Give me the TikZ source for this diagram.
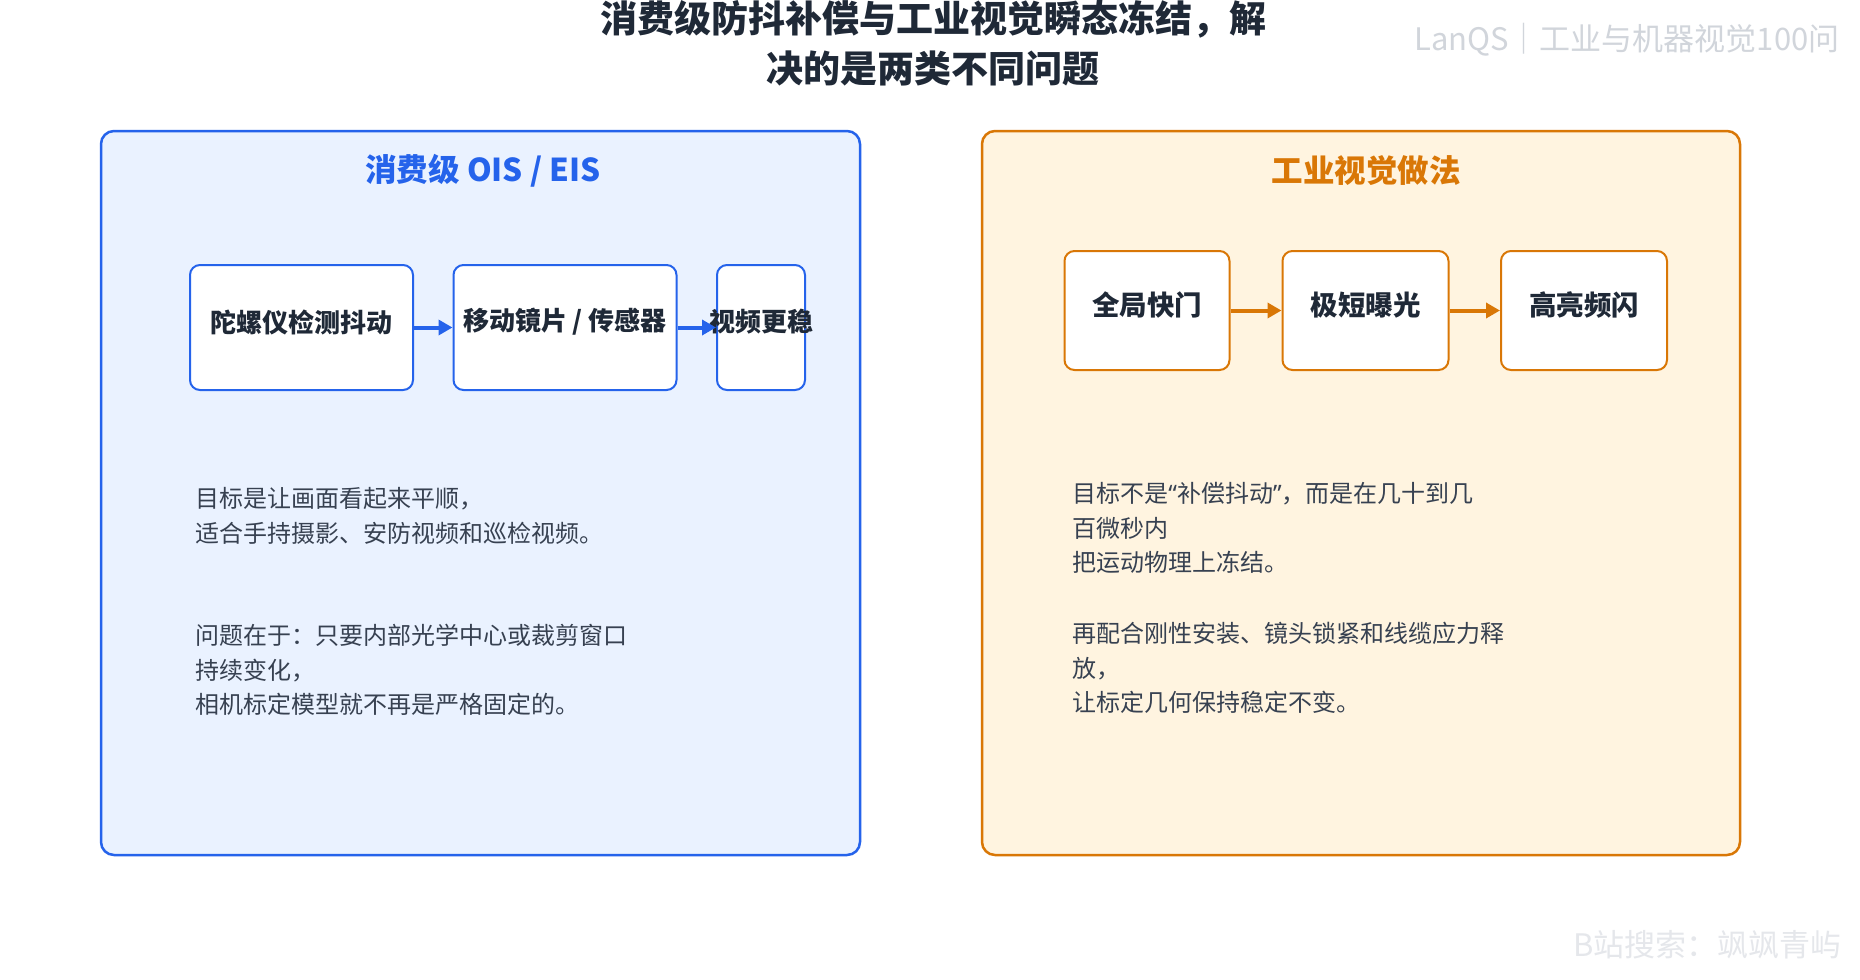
\documentclass[tikz,border=0pt]{standalone}
\usepackage{fontspec}
\setmainfont{Noto Sans CJK SC}
\newfontfamily\latinq{Noto Sans}
\usetikzlibrary{arrows.meta}
\definecolor{titlec}{HTML}{1F2937}
\definecolor{bodyc}{HTML}{374151}
\definecolor{blueb}{HTML}{2563EB}
\definecolor{bluef}{HTML}{EAF2FF}
\definecolor{orangeb}{HTML}{D97706}
\definecolor{orangef}{HTML}{FFF4E0}
\definecolor{wmA}{HTML}{D1D5DB}
\definecolor{wmB}{HTML}{E5E7EB}
\tikzset{
  panelL/.style={draw=blueb, fill=bluef, line width=1.25pt, rounded corners=6.5pt, minimum width=379.5pt, minimum height=362pt, inner sep=0pt},
  panelR/.style={draw=orangeb, fill=orangef, line width=1.25pt, rounded corners=6.5pt, minimum width=379pt, minimum height=362pt, inner sep=0pt},
  lbox/.style={draw=blueb, fill=white, line width=1pt, rounded corners=5pt, minimum height=62.5pt, inner sep=0pt},
  rbox/.style={draw=orangeb, fill=white, line width=1pt, rounded corners=5pt, minimum height=59.5pt, inner sep=0pt},
  ltxt/.style={text=titlec, font={\fontsize{13}{15}\selectfont\bfseries}, inner sep=0pt},
  rtxt/.style={text=titlec, font={\fontsize{13.75}{16}\selectfont\bfseries}, inner sep=0pt},
  larrow/.style={draw=blueb, line width=2pt, -{Triangle[length=7pt,width=7.5pt]}},
  rarrow/.style={draw=orangeb, line width=2pt, -{Triangle[length=7pt,width=7.5pt]}},
  bodytxt/.style={text=bodyc, font={\fontsize{12}{17.25}\selectfont}, align=left, inner sep=0pt, anchor=north west},
  ptitle/.style={font={\fontsize{15.75}{18}\selectfont\bfseries}, inner sep=0pt},
}
\begin{document}
\begin{tikzpicture}[x=0.5pt, y=-0.5pt]
\useasboundingbox[fill=white] (0,0) rectangle (1860,980);

% title
\node[text=titlec, font={\fontsize{18.5}{25}\selectfont\bfseries}, align=center, inner sep=0pt] (title) at (933,43) {消费级防抖补偿与工业视觉瞬态冻结，解\\决的是两类不同问题};

% watermarks
\node[text=wmA, font={\fontsize{15.5}{17}\selectfont}, anchor=east, inner sep=0pt] (wm1) at (1840,39.5) {LanQS｜工业与机器视觉100问};
\node[text=wmB, font={\fontsize{15.5}{17}\selectfont}, anchor=east, inner sep=0pt] (wm2) at (1842,945) {B站搜索：飒飒青屿};

% panels
\node[panelL] (lp) at (480.5,493) {};
\node[panelR] (rp) at (1361,493) {};
\node[ptitle, text=blueb] (lpt) at (483,170.5) {消费级 OIS / EIS};
\node[ptitle, text=orangeb] (rpt) at (1366,170.5) {工业视觉做法};

% left flow
\node[lbox, minimum width=111.5pt] (l1) at (301.5,327.5) {};
\node[lbox, minimum width=111.5pt] (l2) at (565,327.5) {};
\node[lbox, minimum width=44pt] (l3) at (761,327.5) {};
\node[ltxt] (l1t) at ([yshift=2.75pt]l1.center) {陀螺仪检测抖动};
\node[ltxt] (l2t) at ([yshift=2.75pt]l2.center) {移动镜片 / 传感器};
\node[ltxt] (l3t) at ([yshift=2.75pt]l3.center) {视频更稳};
\draw[larrow] (l1.east) -- (l2.west);
\draw[larrow] (l2.east) -- (l3.west);

% right flow
\node[rbox, minimum width=82.5pt] (r1) at (1147,310.5) {};
\node[rbox, minimum width=83pt] (r2) at (1365.5,310.5) {};
\node[rbox, minimum width=83pt] (r3) at (1584,310.5) {};
\node[rtxt] (r1t) at ([yshift=2.75pt]r1.center) {全局快门};
\node[rtxt] (r2t) at ([yshift=2.75pt]r2.center) {极短曝光};
\node[rtxt] (r3t) at ([yshift=2.75pt]r3.center) {高亮频闪};
\draw[rarrow] (r1.east) -- (r2.west);
\draw[rarrow] (r2.east) -- (r3.west);

% body text
\node[bodytxt] (lb1) at (195,487) {目标是让画面看起来平顺，\\适合手持摄影、安防视频和巡检视频。};
\node[bodytxt] (lb2) at (195,624) {问题在于：只要内部光学中心或裁剪窗口\\持续变化，\\相机标定模型就不再是严格固定的。};
\node[bodytxt] (rb1) at (1072,482) {目标不是{\latinq “}补偿抖动{\latinq ”}，而是在几十到几\\百微秒内\\把运动物理上冻结。};
\node[bodytxt] (rb2) at (1072,622) {再配合刚性安装、镜头锁紧和线缆应力释\\放，\\让标定几何保持稳定不变。};
\end{tikzpicture}
\end{document}
